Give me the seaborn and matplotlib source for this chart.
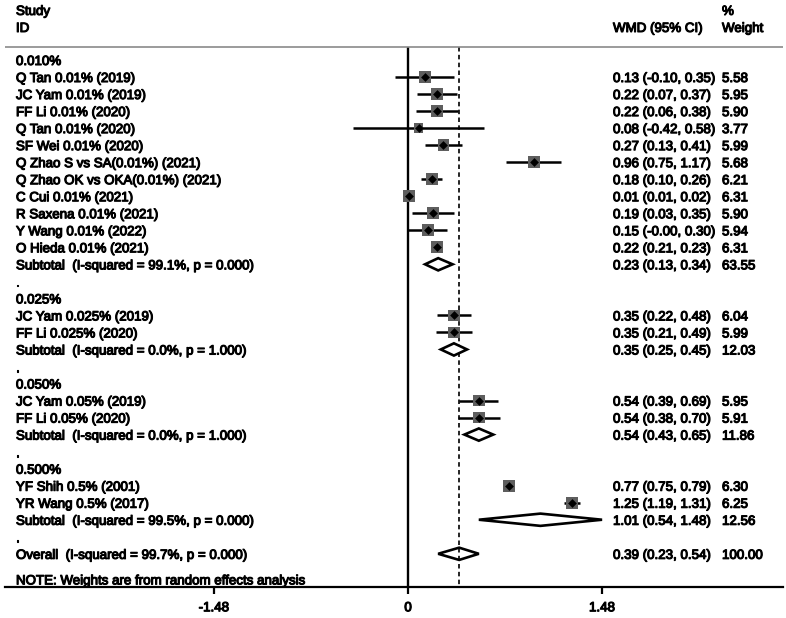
import numpy as np
import pandas as pd
import matplotlib
matplotlib.use("Agg")
import matplotlib.pyplot as plt
import matplotlib.patheffects as pe
import seaborn as sns

# rows of the forest plot, top to bottom
row_labels = [
    "0.010%",
    "Q Tan 0.01% (2019)",
    "JC Yam 0.01% (2019)",
    "FF Li 0.01% (2020)",
    "Q Tan 0.01% (2020)",
    "SF Wei 0.01% (2020)",
    "Q Zhao S vs SA(0.01%) (2021)",
    "Q Zhao OK vs OKA(0.01%) (2021)",
    "C Cui 0.01% (2021)",
    "R Saxena 0.01% (2021)",
    "Y Wang 0.01% (2022)",
    "O Hieda 0.01% (2021)",
    "Subtotal  (I-squared = 99.1%, p = 0.000)",
    ".",
    "0.025%",
    "JC Yam 0.025% (2019)",
    "FF Li 0.025% (2020)",
    "Subtotal  (I-squared = 0.0%, p = 1.000)",
    ".",
    "0.050%",
    "JC Yam 0.05% (2019)",
    "FF Li 0.05% (2020)",
    "Subtotal  (I-squared = 0.0%, p = 1.000)",
    ".",
    "0.500%",
    "YF Shih 0.5% (2001)",
    "YR Wang 0.5% (2017)",
    "Subtotal  (I-squared = 99.5%, p = 0.000)",
    ".",
    "Overall  (I-squared = 99.7%, p = 0.000)",
]
row_kind = (["group"] + ["study"] * 11 + ["sub", "blank", "group"] + ["study"] * 2
            + ["sub", "blank", "group"] + ["study"] * 2
            + ["sub", "blank", "group"] + ["study"] * 2
            + ["sub", "blank", "overall"])

# values for the rows that carry an estimate (study / sub / overall), in order
wmd = [0.13, 0.22, 0.22, 0.08, 0.27, 0.96, 0.18, 0.01, 0.19, 0.15, 0.22, 0.23,
       0.35, 0.35, 0.35,
       0.54, 0.54, 0.54,
       0.77, 1.25, 1.01,
       0.39]
ci_low = [-0.10, 0.07, 0.06, -0.42, 0.13, 0.75, 0.10, 0.01, 0.03, -0.004, 0.21, 0.13,
          0.22, 0.21, 0.25,
          0.39, 0.38, 0.43,
          0.75, 1.19, 0.54,
          0.23]
ci_high = [0.35, 0.37, 0.38, 0.58, 0.41, 1.17, 0.26, 0.02, 0.35, 0.30, 0.23, 0.34,
           0.48, 0.49, 0.45,
           0.69, 0.70, 0.65,
           0.79, 1.31, 1.48,
           0.54]
weight = [5.58, 5.95, 5.90, 3.77, 5.99, 5.68, 6.21, 6.31, 5.90, 5.94, 6.31, 63.55,
          6.04, 5.99, 12.03,
          5.95, 5.91, 11.86,
          6.30, 6.25, 12.56,
          100.00]

x_ticks = [-1.48, 0, 1.48]
overall_line = 0.39
note = "NOTE: Weights are from random effects analysis"

rows = pd.DataFrame({"label": row_labels, "kind": row_kind})
rows["row"] = np.arange(len(rows))
est = rows[rows.kind.isin(["study", "sub", "overall"])].copy()
est["wmd"] = wmd
est["lo"] = ci_low
est["hi"] = ci_high
est["weight"] = weight
studies = est[est.kind == "study"]
diamonds = est[est.kind != "study"]

plt.rcParams["font.family"] = ["Liberation Sans", "DejaVu Sans"]
fs = 9.6
dy = 0.12  # text sits a touch below the marker centre
# regular face, thickened a little like the scanned original
heavy = [pe.withStroke(linewidth=0.8, foreground="black")]
txt = dict(fontsize=fs, va="center", path_effects=heavy)

fig = plt.figure(figsize=(7.86, 6.18), dpi=100)
ax = fig.add_axes([5 / 786, 31 / 618, 778 / 786, 587 / 618])
ax.set_xlim(-3.074, 2.860)
ax.set_ylim(30.95, -3.52)

# reference lines
top_rule = -0.76
dash = (0, (2.7, 2))
ax.vlines(0, top_rule, 30.95, color="black", lw=1.7, zorder=1)
ax.vlines(overall_line, top_rule, 30.95, color="black", lw=1.2,
          linestyles=dash, zorder=1)
ax.axhline(top_rule, color="#8a8a8a", lw=1.2, zorder=1)

# study CIs, weighted squares and point markers
ax.hlines(studies.row, studies.lo, studies.hi, color="black", lw=1.8, zorder=2)
sns.scatterplot(data=studies, x="wmd", y="row", size="weight", sizes=(0, 118),
                size_norm=(0, 10), marker="s", color="#5e5e5e", linewidth=0,
                legend=False, ax=ax, zorder=3)
sns.scatterplot(data=studies, x="wmd", y="row", marker="D", s=20, color="black",
                linewidth=0, legend=False, ax=ax, zorder=4)

# subtotal / overall diamonds
h = 0.36
for _, r in diamonds.iterrows():
    ax.fill([r.lo, r.wmd, r.hi, r.wmd], [r.row, r.row - h, r.row, r.row + h],
            facecolor="white", edgecolor="black", lw=1.9, zorder=2)
ax.vlines(overall_line, 29 - h, 29 + h, color="black", lw=1.2,
          linestyles=dash, zorder=5)

# text columns
tr = ax.get_yaxis_transform()
x_lab, x_ci, x_wt = 0.0141, 0.7815, 0.9216
ax.text(x_lab, -2.94 + dy, "Study", transform=tr, **txt)
ax.text(x_lab, -1.94 + dy, "ID", transform=tr, **txt)
ax.text(x_ci, -1.94 + dy, "WMD (95% CI)", transform=tr, **txt)
ax.text(x_wt, -2.94 + dy, "%", transform=tr, **txt)
ax.text(x_wt, -1.94 + dy, "Weight", transform=tr, **txt)

for _, r in rows.iterrows():
    ax.text(x_lab, r.row + dy, r.label, transform=tr, **txt)
for _, r in est.iterrows():
    ax.text(x_ci, r.row + dy, f"{r.wmd:.2f} ({r.lo:.2f}, {r.hi:.2f})",
            transform=tr, **txt)
    ax.text(x_wt, r.row + dy, f"{r.weight:.2f}", transform=tr, **txt)
ax.text(x_lab, 30.5 + dy, note, transform=tr, **txt)

# axis styling
for side in ["top", "right", "left"]:
    ax.spines[side].set_visible(False)
ax.spines["bottom"].set_linewidth(1.6)
ax.set_yticks([])
ax.set_xticks(x_ticks)
ax.set_xticklabels(["-1.48", "0", "1.48"])
ax.tick_params(axis="x", length=5, width=1.6, pad=6, labelsize=fs)
for t in ax.get_xticklabels():
    t.set_path_effects(heavy)
ax.set_xlabel("")
ax.set_ylabel("")
ax.patch.set_visible(False)

fig.savefig("out.png", dpi=100)
